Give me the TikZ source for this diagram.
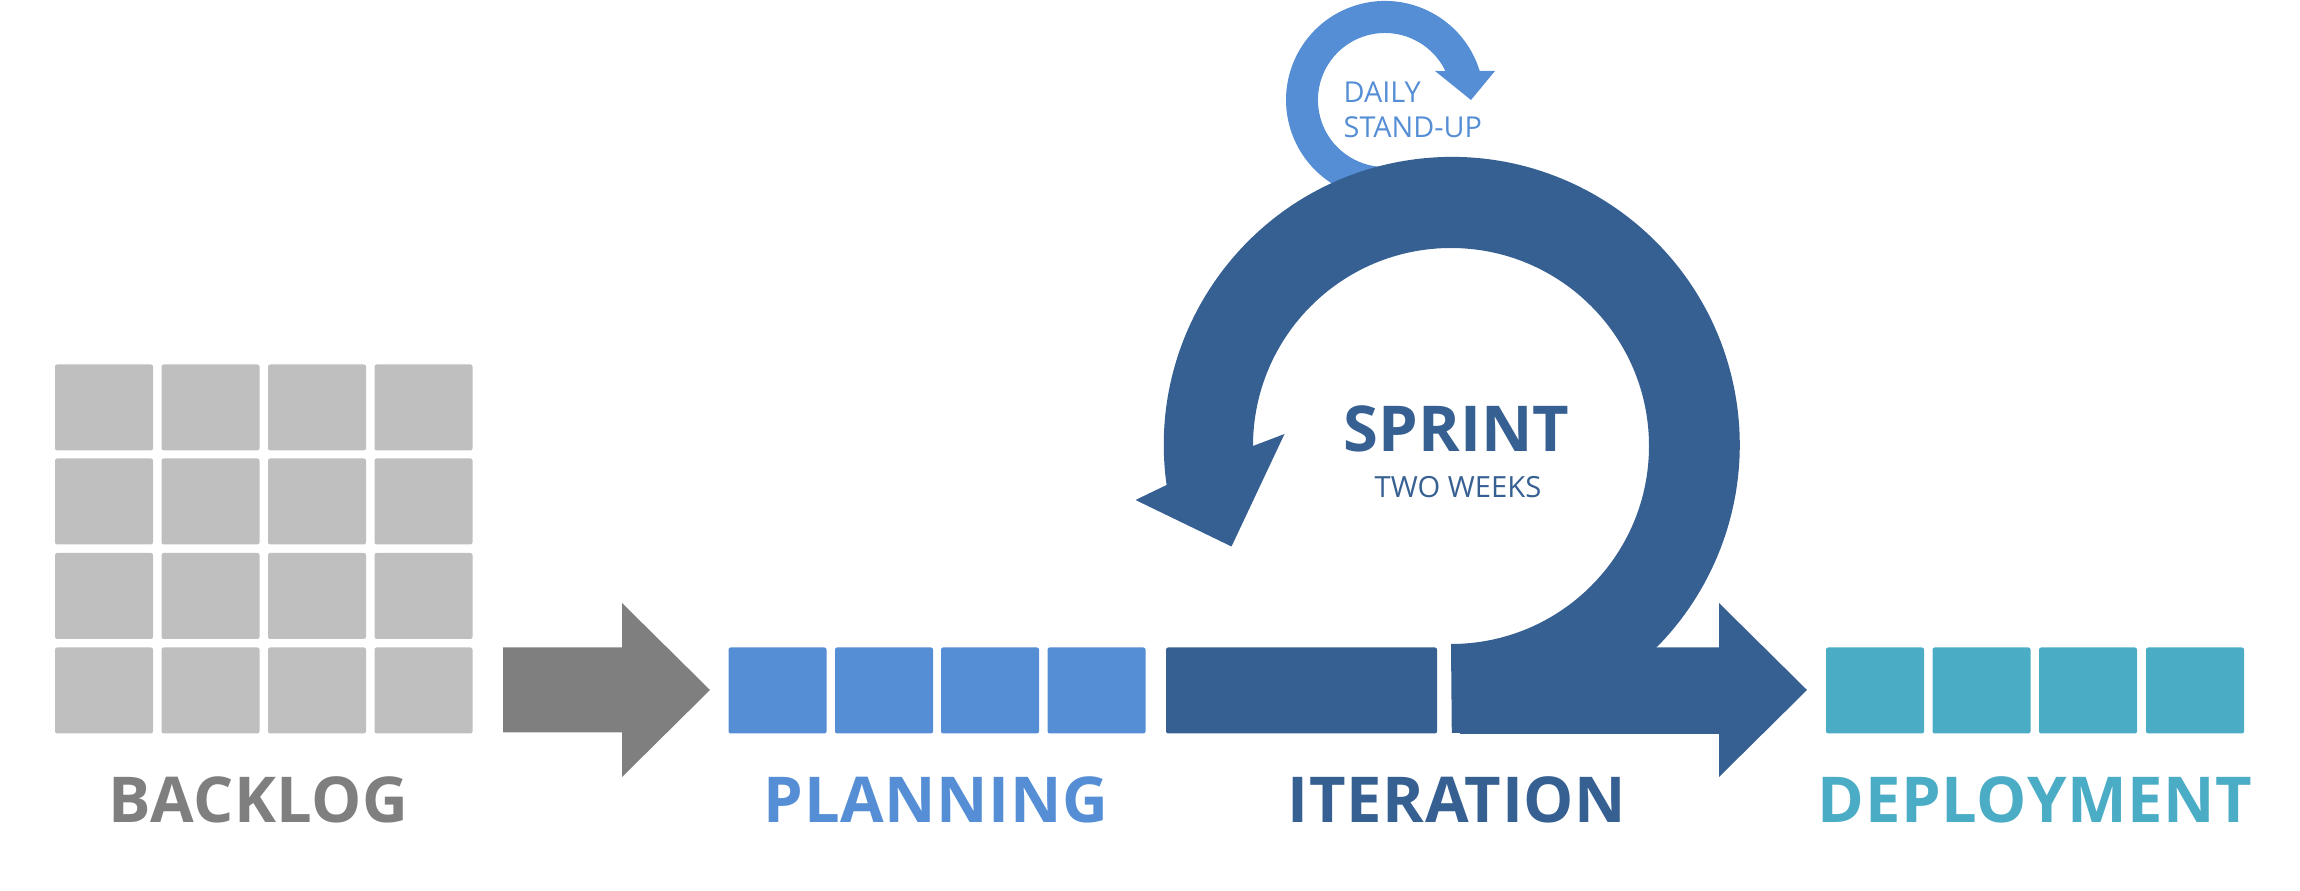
\documentclass[tikz,border=0pt]{standalone}
\usepackage{fontspec}
\setmainfont{Open Sans}
\newfontfamily\spacedfont{Open Sans}[LetterSpace=1]
\definecolor{mgray}{HTML}{BFBFBF}
\definecolor{dgray}{HTML}{7F7F7F}
\definecolor{lblue}{HTML}{558ED5}
\definecolor{dblue}{HTML}{376092}
\definecolor{mteal}{HTML}{4BACC6}

\begin{document}
\begin{tikzpicture}[x=0.1mm, y=0.1mm,
    cell/.style={minimum width=9.8mm, minimum height=8.6mm, inner sep=0pt, rounded corners=0.6pt},
    lbl/.style={anchor=base, inner sep=0pt, font=\spacedfont\bfseries\fontsize{18}{20}\selectfont}]
    \useasboundingbox (0, 0) rectangle (2300, 891);

    \node [cell, fill=mgray] (b11) at (104, 483.5) {};
    \node [cell, fill=mgray] (b12) at (210.5, 483.5) {};
    \node [cell, fill=mgray] (b13) at (317, 483.5) {};
    \node [cell, fill=mgray] (b14) at (423.5, 483.5) {};
    \node [cell, fill=mgray] (b21) at (104, 389.5) {};
    \node [cell, fill=mgray] (b22) at (210.5, 389.5) {};
    \node [cell, fill=mgray] (b23) at (317, 389.5) {};
    \node [cell, fill=mgray] (b24) at (423.5, 389.5) {};
    \node [cell, fill=mgray] (b31) at (104, 295) {};
    \node [cell, fill=mgray] (b32) at (210.5, 295) {};
    \node [cell, fill=mgray] (b33) at (317, 295) {};
    \node [cell, fill=mgray] (b34) at (423.5, 295) {};
    \node [cell, fill=mgray] (b41) at (104, 200.5) {};
    \node [cell, fill=mgray] (b42) at (210.5, 200.5) {};
    \node [cell, fill=mgray] (b43) at (317, 200.5) {};
    \node [cell, fill=mgray] (b44) at (423.5, 200.5) {};

    \fill [dgray] (503, 243.5) -- (622, 243.5) -- (622, 288) -- (710, 201)
        -- (622, 114) -- (622, 158.5) -- (503, 158.5) -- cycle;

    \node [cell, fill=lblue] (p1) at (777.5, 200.5) {};
    \node [cell, fill=lblue] (p2) at (884, 200.5) {};
    \node [cell, fill=lblue] (p3) at (990, 200.5) {};
    \node [cell, fill=lblue] (p4) at (1096.5, 200.5) {};

    \node [cell, fill=dblue, minimum width=27.1mm] (it) at (1301.5, 200.5) {};

    \fill [dblue] (1460, 243.5) -- (1719, 243.5) -- (1719, 288) -- (1807, 201)
        -- (1719, 114) -- (1719, 157) -- (1460, 157) -- cycle;

    \fill [lblue] (1402.3, 726.3) arc [start angle=285, end angle=25.6, radius=6.7mm]
        -- (1435, 820) -- (1471, 791) -- (1495, 820) -- (1479.7, 820)
        arc [start angle=17, end angle=285, radius=9.9mm] -- cycle;

    \fill [dblue] (1451, 247) arc [start angle=-90, end angle=180, radius=19.8mm]
        -- (1284.5, 457) -- (1231.5, 344.5) -- (1135.5, 391) -- (1166.6, 406)
        arc [start angle=188, end angle=-90, radius=28.8mm] -- cycle;

    \node [cell, fill=mteal] (d1) at (1875, 200.5) {};
    \node [cell, fill=mteal] (d2) at (1981.5, 200.5) {};
    \node [cell, fill=mteal] (d3) at (2088, 200.5) {};
    \node [cell, fill=mteal] (d4) at (2195, 200.5) {};

    \node [lbl, dgray] (backlog) at (258.5, 68) {BACKLOG};
    \node [lbl, lblue] (planning) at (936, 68) {PLANNING};
    \node [lbl, dblue] (iteration) at (1457, 68) {ITERATION};
    \node [lbl, mteal] (deployment) at (2035, 68) {DEPLOYMENT};

    \node [dblue, anchor=base, inner sep=0pt, font=\bfseries\fontsize{18}{20}\selectfont] (sprint) at (1456.5, 439) {SPRINT};
    \node [dblue, anchor=base, inner sep=0pt, font=\fontsize{8.3}{10}\selectfont] (weeks) at (1458, 393) {TWO WEEKS};
    \node [lblue, anchor=base west, inner sep=0pt, font=\fontsize{8.2}{10}\selectfont] (daily) at (1343, 788) {DAILY};
    \node [lblue, anchor=base west, inner sep=0pt, font=\fontsize{8.2}{10}\selectfont] (standup) at (1343, 753) {STAND-UP};
\end{tikzpicture}
\end{document}
